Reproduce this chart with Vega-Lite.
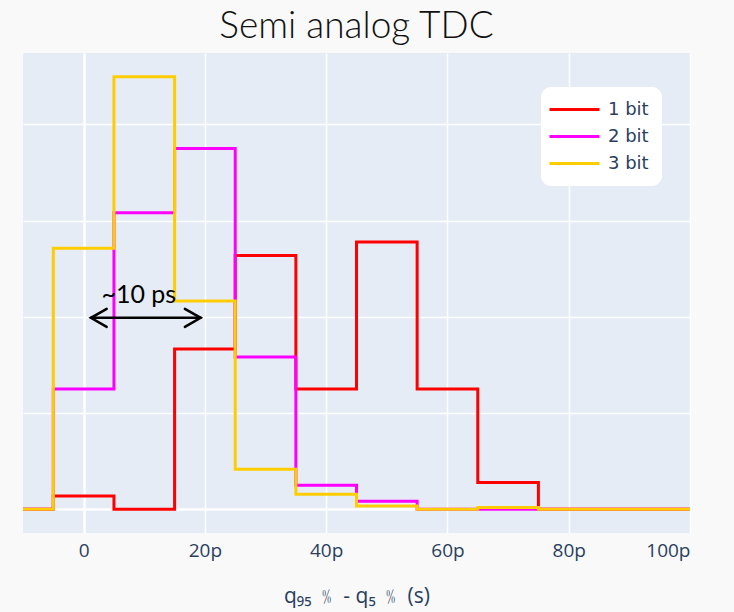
{
  "$schema": "https://vega.github.io/schema/vega-lite/v6.json",
  "autosize": {"type": "none"},
  "width": 667,
  "height": 480,
  "padding": {"left": 23, "top": 53, "right": 44, "bottom": 79},
  "background": "#f9f9f9",
  "title": {
    "text": "Semi analog TDC",
    "anchor": "middle",
    "font": "Lato",
    "fontSize": 37,
    "fontWeight": 300,
    "color": "#111111",
    "baseline": "alphabetic",
    "offset": 17,
    "dy": 39
  },
  "datasets": {
    "hist": [
      {"s": "1 bit", "t": -10, "p": 0},
      {"s": "1 bit", "t": 0, "p": 0.0139},
      {"s": "1 bit", "t": 10, "p": 0},
      {"s": "1 bit", "t": 20, "p": 0.1667},
      {"s": "1 bit", "t": 30, "p": 0.2639},
      {"s": "1 bit", "t": 40, "p": 0.125},
      {"s": "1 bit", "t": 50, "p": 0.2778},
      {"s": "1 bit", "t": 60, "p": 0.125},
      {"s": "1 bit", "t": 70, "p": 0.0278},
      {"s": "1 bit", "t": 80, "p": 0},
      {"s": "1 bit", "t": 90, "p": 0},
      {"s": "1 bit", "t": 100, "p": 0},
      {"s": "2 bit", "t": -10, "p": 0},
      {"s": "2 bit", "t": 0, "p": 0.125},
      {"s": "2 bit", "t": 10, "p": 0.3083},
      {"s": "2 bit", "t": 20, "p": 0.375},
      {"s": "2 bit", "t": 30, "p": 0.1583},
      {"s": "2 bit", "t": 40, "p": 0.025},
      {"s": "2 bit", "t": 50, "p": 0.0083},
      {"s": "2 bit", "t": 60, "p": 0},
      {"s": "2 bit", "t": 70, "p": 0},
      {"s": "2 bit", "t": 80, "p": 0},
      {"s": "2 bit", "t": 90, "p": 0},
      {"s": "2 bit", "t": 100, "p": 0},
      {"s": "3 bit", "t": -10, "p": 0},
      {"s": "3 bit", "t": 0, "p": 0.2713},
      {"s": "3 bit", "t": 10, "p": 0.4497},
      {"s": "3 bit", "t": 20, "p": 0.2165},
      {"s": "3 bit", "t": 30, "p": 0.0416},
      {"s": "3 bit", "t": 40, "p": 0.0156},
      {"s": "3 bit", "t": 50, "p": 0.0034},
      {"s": "3 bit", "t": 60, "p": 0},
      {"s": "3 bit", "t": 70, "p": 0.002},
      {"s": "3 bit", "t": 80, "p": 0},
      {"s": "3 bit", "t": 90, "p": 0},
      {"s": "3 bit", "t": 100, "p": 0}
    ],
    "shaft": [{"t": 1.2, "t2": 19.3, "p": 0.199}],
    "heads": [
      {"k": "L", "i": 0, "t": 3.8, "p": 0.2084},
      {"k": "L", "i": 1, "t": 1.2, "p": 0.199},
      {"k": "L", "i": 2, "t": 3.8, "p": 0.1896},
      {"k": "R", "i": 0, "t": 16.7, "p": 0.2084},
      {"k": "R", "i": 1, "t": 19.3, "p": 0.199},
      {"k": "R", "i": 2, "t": 16.7, "p": 0.1896}
    ],
    "note": [{"t": 9.1, "p": 0.214, "label": "~10 ps"}]
  },
  "encoding": {
    "x": {
      "field": "t",
      "type": "quantitative",
      "scale": {"domain": [-10, 100], "nice": false, "zero": false},
      "axis": {
        "title": "q₉₅ ﹪ - q₅ ﹪ (s)",
        "values": [0, 20, 40, 60, 80, 100],
        "labelExpr": "datum.value === 0 ? '0' : datum.value + 'p'"
      }
    },
    "y": {
      "field": "p",
      "type": "quantitative",
      "scale": {"domain": [-0.0246, 0.4743], "nice": false, "zero": false},
      "axis": {"title": null, "values": [0, 0.1, 0.2, 0.3, 0.4], "labels": false}
    }
  },
  "layer": [
    {
      "data": {"name": "hist"},
      "mark": {"type": "line", "interpolate": "step", "strokeWidth": 3, "clip": true},
      "encoding": {
        "color": {
          "field": "s",
          "type": "nominal",
          "scale": {"domain": ["1 bit", "2 bit", "3 bit"], "range": ["#ff0000", "#ff00ff", "#ffcc00"]},
          "legend": {"title": null}
        }
      }
    },
    {
      "data": {"name": "shaft"},
      "mark": {"type": "rule", "color": "black", "strokeWidth": 2.5, "strokeCap": "round"},
      "encoding": {"x2": {"field": "t2"}}
    },
    {
      "data": {"name": "heads"},
      "mark": {"type": "line", "color": "black", "strokeWidth": 2.5, "strokeCap": "round", "strokeJoin": "miter"},
      "encoding": {
        "detail": {"field": "k"},
        "order": {"field": "i", "type": "ordinal"}
      }
    },
    {
      "data": {"name": "note"},
      "mark": {"type": "text", "font": "Lato", "fontSize": 25, "color": "black", "align": "center", "baseline": "alphabetic"},
      "encoding": {"text": {"field": "label"}}
    }
  ],
  "config": {
    "view": {"stroke": null, "fill": "#E5ECF6"},
    "axis": {
      "domain": false,
      "ticks": false,
      "tickSize": 0,
      "gridColor": "white",
      "gridWidth": {"condition": {"test": "datum.value === 0", "value": 2.5}, "value": 1.5},
      "labelFont": "Open Sans",
      "labelFontSize": 19,
      "labelColor": "#2a3f5f",
      "titleFont": "Open Sans",
      "titleFontSize": 21,
      "titleFontWeight": "normal",
      "titleColor": "#2a3f5f"
    },
    "axisX": {
      "labelPadding": 8,
      "titleBaseline": "alphabetic",
      "titlePadding": 42
    },
    "legend": {
      "orient": "none",
      "legendX": 518,
      "legendY": 34,
      "fillColor": "white",
      "cornerRadius": 10,
      "padding": 13,
      "labelFont": "DejaVu Sans",
      "labelFontSize": 18,
      "labelColor": "#2a3f5f",
      "symbolType": "M-1.75,0H4.5",
      "symbolSize": 256,
      "symbolStrokeWidth": 3,
      "labelOffset": 35,
      "rowPadding": 8
    }
  }
}
